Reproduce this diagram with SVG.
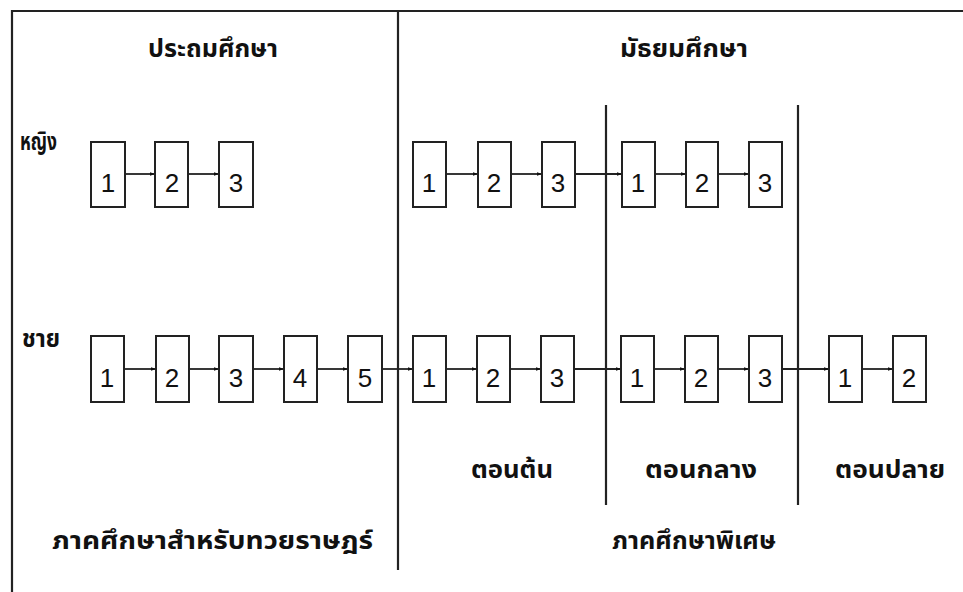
<svg xmlns="http://www.w3.org/2000/svg" width="963" height="592" viewBox="0 0 963 592">
<defs>
<marker id="ah" markerWidth="6" markerHeight="6" refX="5" refY="3" orient="auto" markerUnits="userSpaceOnUse">
<path d="M0,1.2 L5,3 L0,4.8 Z" fill="#111"/>
</marker>
<style>
.frame{stroke:#222;stroke-width:2.2;fill:none}
.box rect{fill:#fff;stroke:#222;stroke-width:2}
.box text{font-family:"Liberation Sans",Arial,sans-serif;font-size:26px;fill:#111;text-anchor:middle}
.conn line{stroke:#222;stroke-width:1.8;marker-end:url(#ah)}
.th{font-family:"Noto Sans Thai","Noto Sans","DejaVu Sans",sans-serif;font-size:24px;fill:#111;font-weight:bold}
</style>
</defs>
<rect width="963" height="592" fill="#fff"/>
<g id="frame">
<path class="frame" d="M12,592 V11 H963"/>
<line class="frame" x1="398" y1="11" x2="398" y2="570"/>
<line class="frame" x1="606" y1="105" x2="606" y2="505"/>
<line class="frame" x1="798" y1="105" x2="798" y2="505"/>
</g>
<g id="labels">
<text class="th" x="148" y="57" textLength="130" lengthAdjust="spacingAndGlyphs">ประถมศึกษา</text>
<text class="th" x="620" y="57" textLength="128" lengthAdjust="spacingAndGlyphs">มัธยมศึกษา</text>
<text class="th" x="20" y="150" textLength="37" lengthAdjust="spacingAndGlyphs">หญิง</text>
<text class="th" x="22" y="347" textLength="38" lengthAdjust="spacingAndGlyphs">ชาย</text>
<text class="th" x="471" y="478" textLength="82" lengthAdjust="spacingAndGlyphs">ตอนต้น</text>
<text class="th" x="645" y="478" textLength="112" lengthAdjust="spacingAndGlyphs">ตอนกลาง</text>
<text class="th" x="835" y="478" textLength="110" lengthAdjust="spacingAndGlyphs">ตอนปลาย</text>
<text class="th" x="52" y="549" textLength="321" lengthAdjust="spacingAndGlyphs">ภาคศึกษาสำหรับทวยราษฎร์</text>
<text class="th" x="612" y="549" textLength="164" lengthAdjust="spacingAndGlyphs">ภาคศึกษาพิเศษ</text>
</g>
<g id="conn" class="conn">
<line x1="125" y1="174" x2="155" y2="174"/>
<line x1="188" y1="174" x2="219" y2="174"/>
<line x1="446" y1="174" x2="478" y2="174"/>
<line x1="511" y1="174" x2="542" y2="174"/>
<line x1="575" y1="174" x2="622" y2="174"/>
<line x1="655" y1="174" x2="686" y2="174"/>
<line x1="718" y1="174" x2="749" y2="174"/>
<line x1="124" y1="369" x2="156" y2="369"/>
<line x1="189" y1="369" x2="219" y2="369"/>
<line x1="253" y1="369" x2="284" y2="369"/>
<line x1="317" y1="369" x2="348" y2="369"/>
<line x1="382" y1="369" x2="413" y2="369"/>
<line x1="446" y1="369" x2="477" y2="369"/>
<line x1="510" y1="369" x2="541" y2="369"/>
<line x1="574" y1="369" x2="621" y2="369"/>
<line x1="654" y1="369" x2="685" y2="369"/>
<line x1="718" y1="369" x2="749" y2="369"/>
<line x1="782" y1="369" x2="829" y2="369"/>
<line x1="862" y1="369" x2="893" y2="369"/>
</g>
<g id="f1" class="box"><rect x="91" y="142" width="34" height="65"/><text x="108" y="192">1</text></g>
<g id="f2" class="box"><rect x="155" y="142" width="33" height="65"/><text x="172" y="192">2</text></g>
<g id="f3" class="box"><rect x="219" y="142" width="34" height="65"/><text x="236" y="192">3</text></g>
<g id="f4" class="box"><rect x="413" y="142" width="33" height="65"/><text x="429" y="192">1</text></g>
<g id="f5" class="box"><rect x="478" y="142" width="33" height="65"/><text x="494" y="192">2</text></g>
<g id="f6" class="box"><rect x="542" y="142" width="33" height="65"/><text x="558" y="192">3</text></g>
<g id="f7" class="box"><rect x="622" y="142" width="33" height="65"/><text x="638" y="192">1</text></g>
<g id="f8" class="box"><rect x="686" y="142" width="32" height="65"/><text x="702" y="192">2</text></g>
<g id="f9" class="box"><rect x="749" y="142" width="33" height="65"/><text x="765" y="192">3</text></g>
<g id="m1" class="box"><rect x="91" y="336" width="33" height="66"/><text x="107" y="387">1</text></g>
<g id="m2" class="box"><rect x="156" y="336" width="33" height="66"/><text x="172" y="387">2</text></g>
<g id="m3" class="box"><rect x="219" y="336" width="34" height="66"/><text x="236" y="387">3</text></g>
<g id="m4" class="box"><rect x="284" y="336" width="33" height="66"/><text x="300" y="387">4</text></g>
<g id="m5" class="box"><rect x="348" y="336" width="34" height="66"/><text x="365" y="387">5</text></g>
<g id="m6" class="box"><rect x="413" y="336" width="33" height="66"/><text x="429" y="387">1</text></g>
<g id="m7" class="box"><rect x="477" y="336" width="33" height="66"/><text x="493" y="387">2</text></g>
<g id="m8" class="box"><rect x="541" y="336" width="33" height="66"/><text x="557" y="387">3</text></g>
<g id="m9" class="box"><rect x="621" y="336" width="33" height="66"/><text x="637" y="387">1</text></g>
<g id="m10" class="box"><rect x="685" y="336" width="33" height="66"/><text x="701" y="387">2</text></g>
<g id="m11" class="box"><rect x="749" y="336" width="33" height="66"/><text x="765" y="387">3</text></g>
<g id="m12" class="box"><rect x="829" y="336" width="33" height="66"/><text x="845" y="387">1</text></g>
<g id="m13" class="box"><rect x="893" y="336" width="33" height="66"/><text x="909" y="387">2</text></g>
</svg>
